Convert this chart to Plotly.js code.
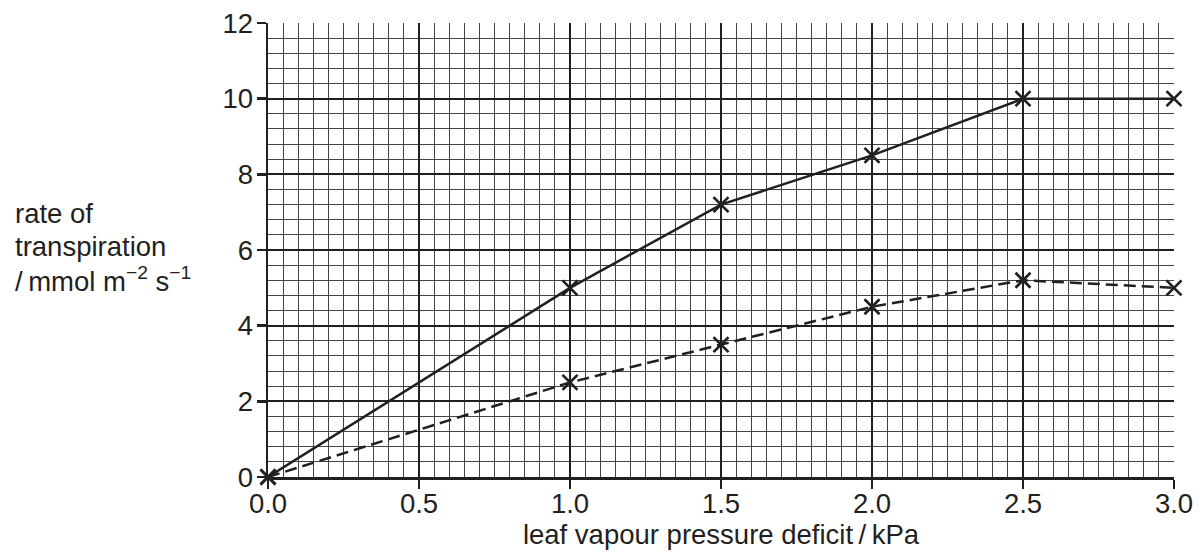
<!DOCTYPE html>
<html><head><meta charset="utf-8">
<script src="https://cdn.plot.ly/plotly-3.0.1.min.js"></script>
<style>html,body{margin:0;padding:0;background:#fff;}#chart{width:1203px;height:553px;}</style>
</head><body><div id="chart"></div>
<script>
const xValues = [0, 1.0, 1.5, 2.0, 2.5, 3.0];
const solidSeries = [0, 5.0, 7.2, 8.5, 10.0, 10.0];
const dashedSeries = [0, 2.5, 3.5, 4.5, 5.2, 5.0];
const xTicks = [0, 0.5, 1.0, 1.5, 2.0, 2.5, 3.0];
const xTickLabels = ['0.0','0.5','1.0','1.5','2.0','2.5','3.0'];
const yTicks = [0, 2, 4, 6, 8, 10, 12];
const yTitleLines = ['rate of', 'transpiration', '/\u2009mmol m<sup>−2</sup> s<sup>−1</sup>'];

const ink = '#231f20';
const font = {family: 'Liberation Sans, Arial, sans-serif', size: 27.5, color: ink};

const markerStyle = {symbol: 'x-thin', size: 15, line: {width: 2.7, color: ink}, color: ink};

const traces = [
  {x: xValues, y: solidSeries, mode: 'lines+markers', line: {color: ink, width: 2.5}, marker: markerStyle, cliponaxis: false, hoverinfo: 'none'},
  {x: xValues, y: dashedSeries, mode: 'lines+markers', line: {color: ink, width: 2.5, dash: '12px,6px'}, marker: markerStyle, cliponaxis: false, hoverinfo: 'none'}
];

const plotTop = 23, plotH = 454;
const titleCenters = [213, 246, 279];
const annotations = yTitleLines.map((t, i) => ({
  xref: 'paper', yref: 'paper', x: (13 - 268) / 906, y: (plotTop + plotH - titleCenters[i]) / plotH,
  xanchor: 'left', yanchor: 'middle', align: 'left', showarrow: false, font: font, text: t
}));

const layout = {
  width: 1203, height: 553,
  margin: {l: 268, r: 29, t: plotTop, b: 553 - plotTop - plotH},
  paper_bgcolor: '#fff', plot_bgcolor: '#fff',
  showlegend: false,
  font: font,
  xaxis: {
    range: [0, 3], tickvals: xTicks, ticktext: xTickLabels,
    ticks: 'outside', ticklen: 9, tickwidth: 2.5, tickcolor: ink,
    showline: true, linecolor: ink, linewidth: 2.5, mirror: false,
    showgrid: true, gridcolor: ink, gridwidth: 1.8,
    minor: {dtick: 0.05, showgrid: true, gridcolor: '#444', gridwidth: 1, ticks: ''},
    zeroline: false, tickfont: font, ticklabelstandoff: -9,
    title: {text: 'leaf vapour pressure deficit\u2009/\u2009kPa', font: font, standoff: 2}
  },
  yaxis: {
    range: [0, 12], tickvals: yTicks,
    ticks: 'outside', ticklen: 9, tickwidth: 2.5, tickcolor: ink,
    showline: true, linecolor: ink, linewidth: 2.5,
    showgrid: true, gridcolor: ink, gridwidth: 1.8,
    minor: {dtick: 0.4, showgrid: true, gridcolor: '#444', gridwidth: 1, ticks: ''},
    zeroline: false, tickfont: font, ticklabelstandoff: -2
  },
  annotations: annotations
};
Plotly.newPlot('chart', traces, layout, {staticPlot: true});
</script></body></html>
